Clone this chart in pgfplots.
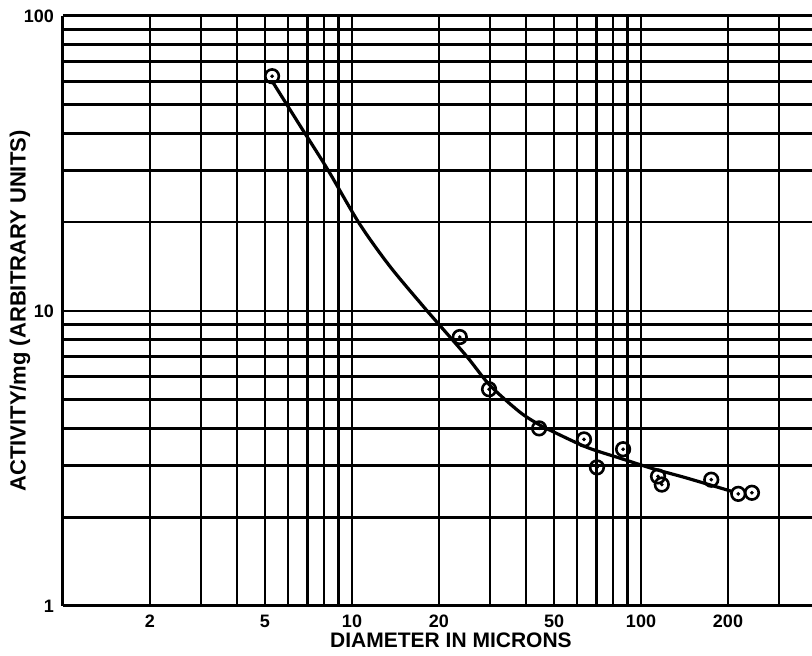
\documentclass[border=0pt]{standalone}
\usepackage{pgfplots}
\pgfplotsset{compat=1.18}
\usepackage{fontspec}
\setmainfont{Liberation Sans}

\pgfplotstableread{
x y
5.29 62.5
23.6 8.16
29.8 5.43
44.4 4.0
63.5 3.67
70.4 2.95
86.7 3.40
114.5 2.75
118 2.58
175 2.68
217 2.40
242 2.42
}\pointdata

\pgfplotstableread{
x y
5.3 60
6.6 42.6
8.2 30.4
10.6 19.8
13.5 14.2
17.6 10.4
20.2 8.9
25 7.0
30 5.6
38 4.55
44.4 4.12
49.6 3.9
65 3.45
84.6 3.17
110 2.92
143 2.72
208 2.44
}\curvedata

\begin{document}
\begin{tikzpicture}
\begin{loglogaxis}[
    at={(0,0)}, anchor=south west,
    scale only axis,
    width=374.5pt, height=295pt,
    xmin=1, xmax=390.6,
    ymin=1, ymax=100,
    axis x line*=box,
    axis y line*=left,
    axis line style={line width=1.5pt},
    xtick={2,5,10,20,50,100,200},
    xticklabels={2,5,10,20,50,100,200},
    minor xtick={1,3,4,6,7,8,9,30,40,60,70,80,90,300},
    ytick={1,10,100},
    yticklabels={1,10,100},
    minor ytick={2,3,4,5,6,7,8,9,20,30,40,50,60,70,80,90},
    grid=both,
    major grid style={black, line width=1.3pt},
    minor grid style={black, line width=1.3pt},
    major tick length=0pt, minor tick length=0pt,
    tick label style={font=\fontsize{9}{10}\selectfont\bfseries},
    xticklabel style={yshift=-1pt},
    yticklabel style={xshift=-1pt},
    xlabel={DIAMETER IN MICRONS},
    ylabel={ACTIVITY/mg (ARBITRARY UNITS)},
    every axis x label/.style={at={(axis description cs:0.518,0)}, yshift=-17pt, anchor=center,
        font=\fontsize{10.5}{12}\selectfont\bfseries},
    every axis y label/.style={at={(axis description cs:0,0.5)}, xshift=-21.5pt, rotate=90, anchor=center,
        font=\fontsize{11}{12}\selectfont\bfseries},
]
\addplot[black, line width=1.6pt, smooth, tension=0.5] table {\curvedata};
\addplot[only marks, mark=o, mark size=3.4pt, mark options={line width=1.3pt, fill=white, draw=black}] table {\pointdata};
\addplot[only marks, mark=*, mark size=0.7pt, mark options={fill=black, draw=black}] table {\pointdata};
\end{loglogaxis}
\pgfresetboundingbox
\useasboundingbox (-31.5pt,-25pt) rectangle (374.5pt,303pt);
\end{tikzpicture}
\end{document}
